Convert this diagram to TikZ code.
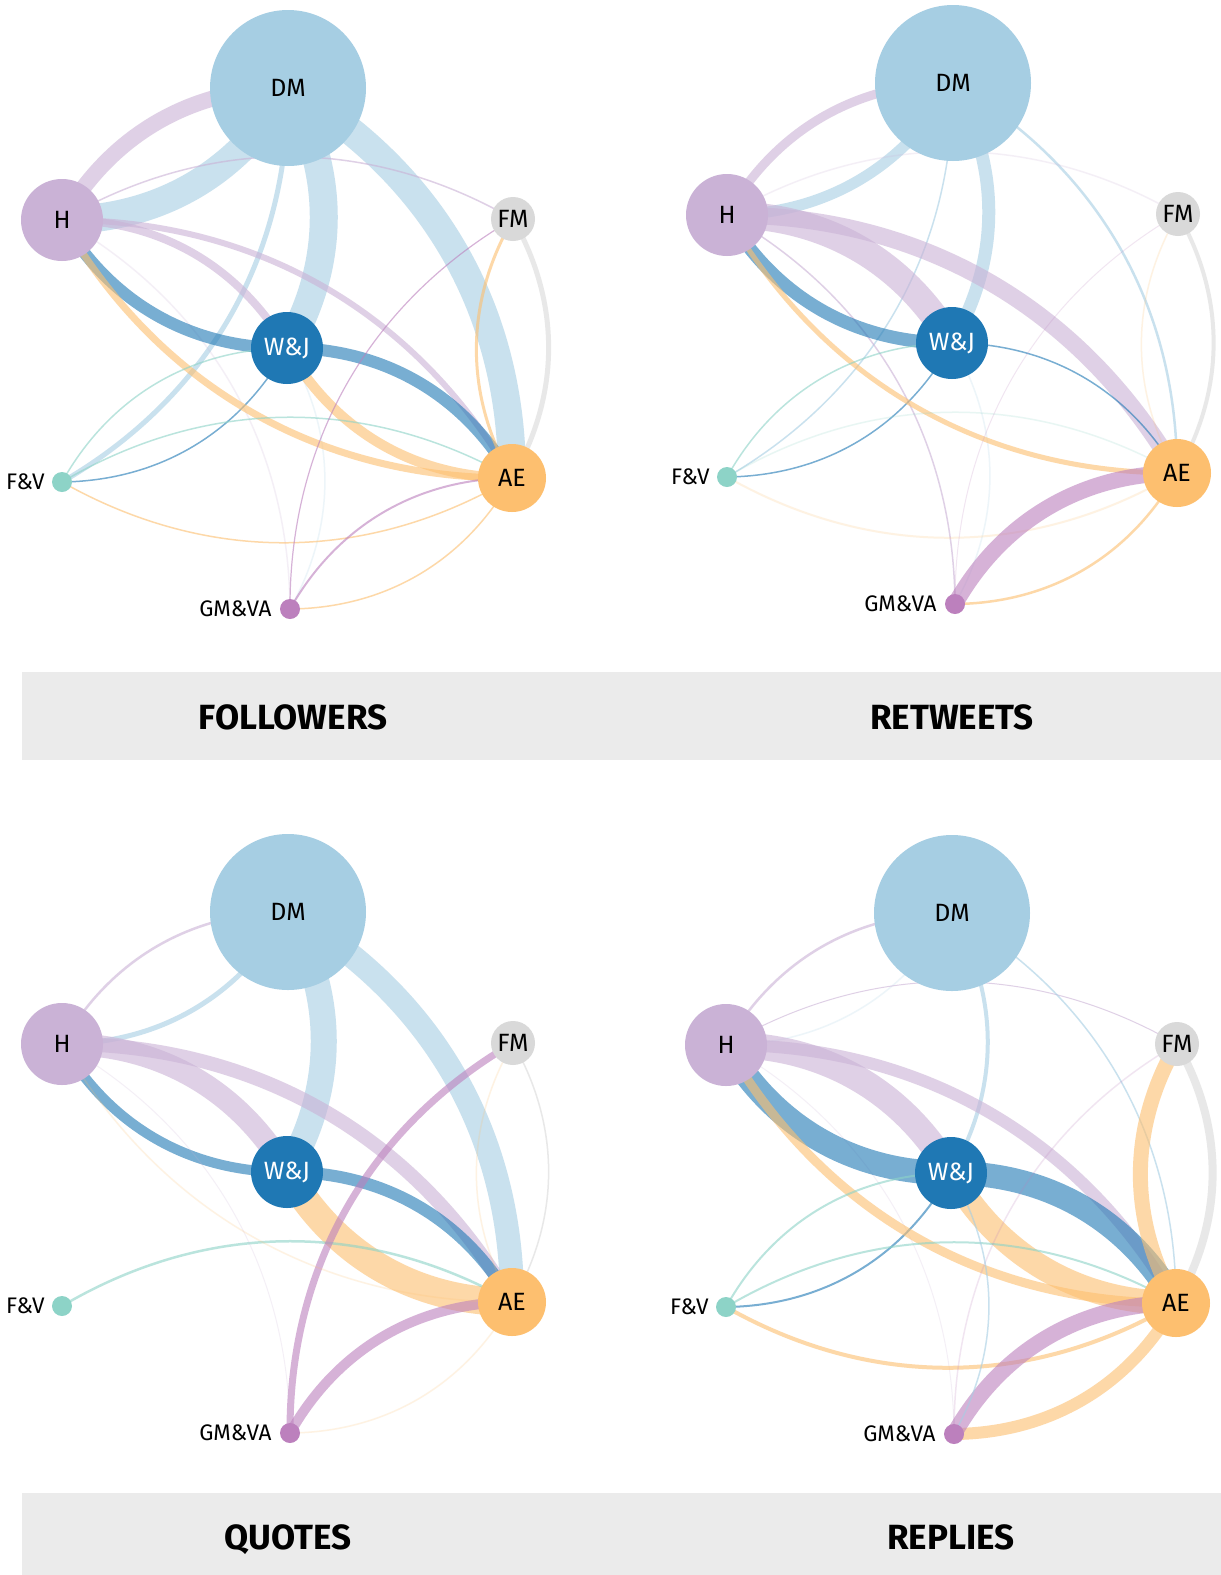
\documentclass[tikz,border=0pt]{standalone}
\usepackage{fontspec}
\setmainfont{Fira Sans}
\pgfdeclarelayer{bg}
\pgfdeclarelayer{edges}
\pgfsetlayers{bg,edges,main}
\definecolor{cDM}{HTML}{A6CEE3}
\definecolor{cH}{HTML}{CAB2D6}
\definecolor{cWJ}{HTML}{1F78B4}
\definecolor{cFM}{HTML}{D9D9D9}
\definecolor{cFV}{HTML}{8DD3C7}
\definecolor{cAE}{HTML}{FDBF6F}
\definecolor{cGM}{HTML}{BC80BD}
\definecolor{bandc}{HTML}{EBEBEB}
\tikzset{
  nd/.style={circle, inner sep=0pt, draw=none, font=\fontsize{25}{28}\selectfont, text=black},
  lbl/.style={font=\fontsize{22.5}{26}\selectfont, inner sep=0pt, text=black},
  edge/.style={draw opacity=0.6, bend left=30, looseness=0.95},
  faint/.style={draw opacity=0.2},
  ttl/.style={font=\fontsize{35}{40}\selectfont\bfseries, inner sep=0pt, text=black, anchor=base}
}
\newcommand\ed[5]{\draw[edge,draw=#4,line width=#5pt] (#1#2.center) to (#1#3.center);}
\newcommand\edf[5]{\draw[edge,faint,draw=#4,line width=#5pt] (#1#2.center) to (#1#3.center);}
\newcommand\mkpanel[3]{%
\begin{scope}[shift={(#2,#3)}]
\node[nd, fill=cDM, minimum size=156pt] (#1DM) at (288,88) {DM};
\node[nd, fill=cH, minimum size=82pt] (#1H) at (62,220) {H};
\node[nd, fill=cFM, minimum size=44pt] (#1FM) at (513,219) {FM};
\node[nd, fill=cWJ, minimum size=72pt, text=white] (#1WJ) at (287,348) {W\&J};
\node[nd, fill=cFV, minimum size=20pt, label={[lbl,xshift=-7pt]left:F\&V}] (#1FV) at (62,482) {};
\node[nd, fill=cAE, minimum size=68pt] (#1AE) at (512,478) {AE};
\node[nd, fill=cGM, minimum size=20pt, label={[lbl,xshift=-8pt]left:GM\&VA}] (#1GM) at (290,609) {};
\end{scope}}
\begin{document}
\begin{tikzpicture}[x=1pt,y=-1pt]
\useasboundingbox (0,0) rectangle (1221,1575);
\begin{pgfonlayer}{bg}
\fill[white] (0,0) rectangle (1221,1575);
\end{pgfonlayer}
\fill[bandc] (22,672) rectangle (1221,760);
\fill[bandc] (22,1493) rectangle (1221,1575);
\node[ttl] (t1) at (293,729) {FOLLOWERS};
\node[ttl] (t2) at (952,729) {RETWEETS};
\node[ttl] (t3) at (288,1549) {QUOTES};
\node[ttl] (t4) at (951,1549) {REPLIES};
\mkpanel{p1}{0}{0}
\mkpanel{p2}{665}{-5}
\mkpanel{p3}{0}{824}
\mkpanel{p4}{664}{825}
\begin{pgfonlayer}{edges}
% FOLLOWERS
\ed{p1}{H}{DM}{cH}{16}
\ed{p1}{DM}{H}{cDM}{28}
\ed{p1}{DM}{WJ}{cDM}{28}
\ed{p1}{DM}{AE}{cDM}{28}
\ed{p1}{DM}{FV}{cDM}{5}
\ed{p1}{H}{WJ}{cH}{8}
\ed{p1}{H}{AE}{cH}{6}
\ed{p1}{H}{FM}{cH}{1.5}
\edf{p1}{H}{GM}{cH}{1.5}
\ed{p1}{WJ}{H}{cWJ}{12}
\ed{p1}{WJ}{AE}{cWJ}{12}
\ed{p1}{WJ}{FV}{cWJ}{1.5}
\edf{p1}{WJ}{GM}{cDM}{1.5}
\ed{p1}{AE}{H}{cAE}{7}
\ed{p1}{AE}{WJ}{cAE}{10}
\ed{p1}{AE}{FM}{cAE}{3}
\ed{p1}{AE}{FV}{cAE}{1.5}
\ed{p1}{AE}{GM}{cAE}{1.5}
\ed{p1}{FM}{AE}{cFM}{5}
\ed{p1}{FV}{AE}{cFV}{1.5}
\ed{p1}{FV}{WJ}{cFV}{1.5}
\ed{p1}{GM}{AE}{cGM}{2}
\ed{p1}{GM}{FM}{cGM}{1.2}
% RETWEETS
\ed{p2}{H}{DM}{cH}{9}
\ed{p2}{DM}{H}{cDM}{11}
\ed{p2}{DM}{WJ}{cDM}{13}
\ed{p2}{DM}{AE}{cDM}{2.5}
\ed{p2}{DM}{FV}{cDM}{1.5}
\ed{p2}{H}{WJ}{cH}{27}
\ed{p2}{H}{AE}{cH}{17}
\ed{p2}{H}{GM}{cH}{1.5}
\edf{p2}{H}{FM}{cH}{1.5}
\ed{p2}{WJ}{H}{cWJ}{13}
\ed{p2}{WJ}{AE}{cWJ}{1.5}
\ed{p2}{WJ}{FV}{cWJ}{1.5}
\edf{p2}{WJ}{GM}{cDM}{1.5}
\ed{p2}{AE}{H}{cAE}{5}
\ed{p2}{AE}{GM}{cAE}{2.5}
\edf{p2}{AE}{FV}{cAE}{2}
\edf{p2}{AE}{FM}{cAE}{1.5}
\ed{p2}{FM}{AE}{cFM}{4}
\ed{p2}{FV}{WJ}{cFV}{1.5}
\edf{p2}{FV}{AE}{cFV}{1.5}
\ed{p2}{GM}{AE}{cGM}{16}
\edf{p2}{GM}{FM}{cGM}{1}
% QUOTES
\ed{p3}{H}{DM}{cH}{2.5}
\ed{p3}{DM}{H}{cDM}{5}
\ed{p3}{DM}{WJ}{cDM}{26}
\ed{p3}{DM}{AE}{cDM}{24}
\ed{p3}{H}{WJ}{cH}{22}
\ed{p3}{H}{AE}{cH}{14}
\ed{p3}{WJ}{H}{cWJ}{10}
\ed{p3}{WJ}{AE}{cWJ}{12}
\ed{p3}{AE}{WJ}{cAE}{28}
\ed{p3}{FM}{AE}{cFM}{1.5}
\ed{p3}{FV}{AE}{cFV}{2.5}
\ed{p3}{GM}{FM}{cGM}{7}
\ed{p3}{GM}{AE}{cGM}{10}
\edf{p3}{H}{GM}{cH}{1}
\edf{p3}{AE}{GM}{cAE}{1.5}
\edf{p3}{AE}{H}{cAE}{1.5}
\edf{p3}{AE}{FM}{cAE}{1.5}
% REPLIES
\ed{p4}{H}{DM}{cH}{2.5}
\edf{p4}{DM}{H}{cDM}{1.5}
\ed{p4}{H}{FM}{cH}{1}
\ed{p4}{DM}{WJ}{cDM}{4}
\ed{p4}{DM}{AE}{cDM}{1.5}
\ed{p4}{H}{WJ}{cH}{26}
\ed{p4}{H}{AE}{cH}{12}
\edf{p4}{H}{GM}{cH}{1}
\ed{p4}{WJ}{H}{cWJ}{24}
\ed{p4}{WJ}{AE}{cWJ}{24}
\ed{p4}{WJ}{FV}{cWJ}{2}
\ed{p4}{AE}{H}{cAE}{9}
\ed{p4}{AE}{WJ}{cAE}{24}
\ed{p4}{AE}{FM}{cAE}{15}
\ed{p4}{AE}{FV}{cAE}{4}
\ed{p4}{AE}{GM}{cAE}{12}
\ed{p4}{FM}{AE}{cFM}{8}
\ed{p4}{FV}{WJ}{cFV}{2}
\ed{p4}{FV}{AE}{cFV}{2}
\ed{p4}{GM}{AE}{cGM}{16}
\edf{p4}{GM}{FM}{cGM}{1.5}
\ed{p4}{WJ}{GM}{cDM}{1.5}
\end{pgfonlayer}
\end{tikzpicture}
\end{document}
